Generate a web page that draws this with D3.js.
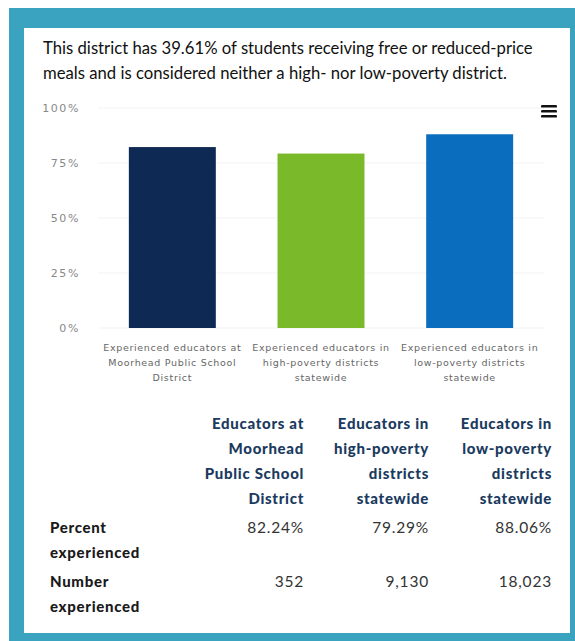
<!DOCTYPE html>
<html><head><meta charset="utf-8">
<script src="https://cdn.jsdelivr.net/npm/d3@7"></script>
<style>
html,body{margin:0;padding:0;background:#fff;}
svg{display:block;}
</style></head>
<body>
<svg id="c" width="575" height="641"></svg>
<script>
// ---- data ----
const titleLines = [
  "This district has 39.61% of students receiving free or reduced-price",
  "meals and is considered neither a high- nor low-poverty district."
];
const categories = ["Moorhead", "HighPoverty", "LowPoverty"];
const categoryLabels = [
  ["Experienced educators at", "Moorhead Public School", "District"],
  ["Experienced educators in", "high-poverty districts", "statewide"],
  ["Experienced educators in", "low-poverty districts", "statewide"]
];
const percentValues = [82.24, 79.29, 88.06];
const barColors = ["#0e2a54", "#7ab929", "#0b6dbd"];
const yTicks = [0, 25, 50, 75, 100];
const tableHeaders = [
  ["Educators at", "Moorhead", "Public School", "District"],
  ["Educators in", "high-poverty", "districts", "statewide"],
  ["Educators in", "low-poverty", "districts", "statewide"]
];
const rowLabels = [["Percent", "experienced"], ["Number", "experienced"]];
const percentText = ["82.24%", "79.29%", "88.06%"];
const numberText = ["352", "9,130", "18,023"];

// ---- drawing ----
const svg = d3.select("#c");
const teal = "#3aa4c0";

svg.append("rect").attr("x", 9).attr("y", 8).attr("width", 575).attr("height", 650).attr("fill", teal);
svg.append("rect").attr("x", 24).attr("y", 28).attr("width", 546).attr("height", 605).attr("fill", "#fff");

const textFont = "Lato, 'Open Sans', sans-serif";

// title
const tt = svg.append("g");
titleLines.forEach((t, i) => {
  tt.append("text").attr("x", 43).attr("y", 54 + i * 25)
    .attr("font-family", textFont).attr("font-size", 15.5).attr("fill", "#111")
    .text(t);
});
(function(){
  const n = tt.select("text").node();
  const w = n.getComputedTextLength();
  const fs = 15.5 * 490 / w;
  tt.selectAll("text").attr("font-size", fs);
})();

// scales
const x = d3.scaleBand().domain(categories).range([98, 544]).paddingInner(0.415).paddingOuter(0.2075);
const y = d3.scaleLinear().domain([0, 100]).range([328, 108]);

// gridlines
svg.append("g").selectAll("line").data(yTicks).join("line")
  .attr("x1", 98).attr("x2", 544)
  .attr("y1", d => y(d)).attr("y2", d => y(d))
  .attr("stroke", "#f3f3f3").attr("stroke-width", 1);

// y axis
const yAxis = d3.axisLeft(y).tickValues(yTicks).tickFormat(d => d + "%").tickSize(0).tickPadding(0);
const ya = svg.append("g").attr("transform", "translate(80,0)").call(yAxis);
ya.select(".domain").remove();
ya.selectAll("text").attr("font-family", "'DejaVu Sans', sans-serif").attr("font-size", 11)
  .attr("fill", "#888").attr("letter-spacing", "1.6px").attr("dy", "0.35em");

// bars
svg.append("g").selectAll("rect").data(categories).join("rect")
  .attr("x", d => x(d)).attr("width", x.bandwidth())
  .attr("y", (d, i) => y(percentValues[i]))
  .attr("height", (d, i) => y(0) - y(percentValues[i]))
  .attr("fill", (d, i) => barColors[i]);

// category labels
const cl = svg.append("g");
categories.forEach((c, i) => {
  categoryLabels[i].forEach((line, j) => {
    cl.append("text").attr("x", x(c) + x.bandwidth() / 2).attr("y", 351 + j * 15)
      .attr("text-anchor", "middle")
      .attr("font-family", "'DejaVu Sans', sans-serif").attr("font-size", 9.5)
      .attr("letter-spacing", "0.68px").attr("fill", "#666").text(line);
  });
});

// hamburger
const hb = svg.append("g");
[0, 5, 10].forEach(o => hb.append("rect").attr("x", 541).attr("y", 105 + o).attr("width", 16).attr("height", 2.6).attr("rx", 1.2).attr("fill", "#111"));

// table
const colRight = [304, 429, 552];
const headFont = "Lato, 'Open Sans', sans-serif";
const tb = svg.append("g");
tableHeaders.forEach((lines, i) => {
  lines.forEach((l, j) => {
    tb.append("text").attr("x", colRight[i]).attr("y", 429 + j * 25)
      .attr("text-anchor", "end").attr("font-family", headFont).attr("font-weight", 900)
      .attr("font-size", 15).attr("letter-spacing", "0.7px").attr("fill", "#1b3a60").text(l);
  });
});
rowLabels.forEach((lines, r) => {
  lines.forEach((l, j) => {
    tb.append("text").attr("x", 50).attr("y", 533 + r * 54 + j * 25)
      .attr("font-family", headFont).attr("font-weight", 900)
      .attr("font-size", 15).attr("letter-spacing", "0.7px").attr("fill", "#1a1a1a").text(l);
  });
});
[percentText, numberText].forEach((row, r) => {
  row.forEach((v, i) => {
    tb.append("text").attr("x", colRight[i]).attr("y", 533 + r * 54)
      .attr("text-anchor", "end").attr("font-family", headFont)
      .attr("font-size", 15.5).attr("letter-spacing", "0.8px").attr("fill", "#333").text(v);
  });
});
</script>
</body></html>
